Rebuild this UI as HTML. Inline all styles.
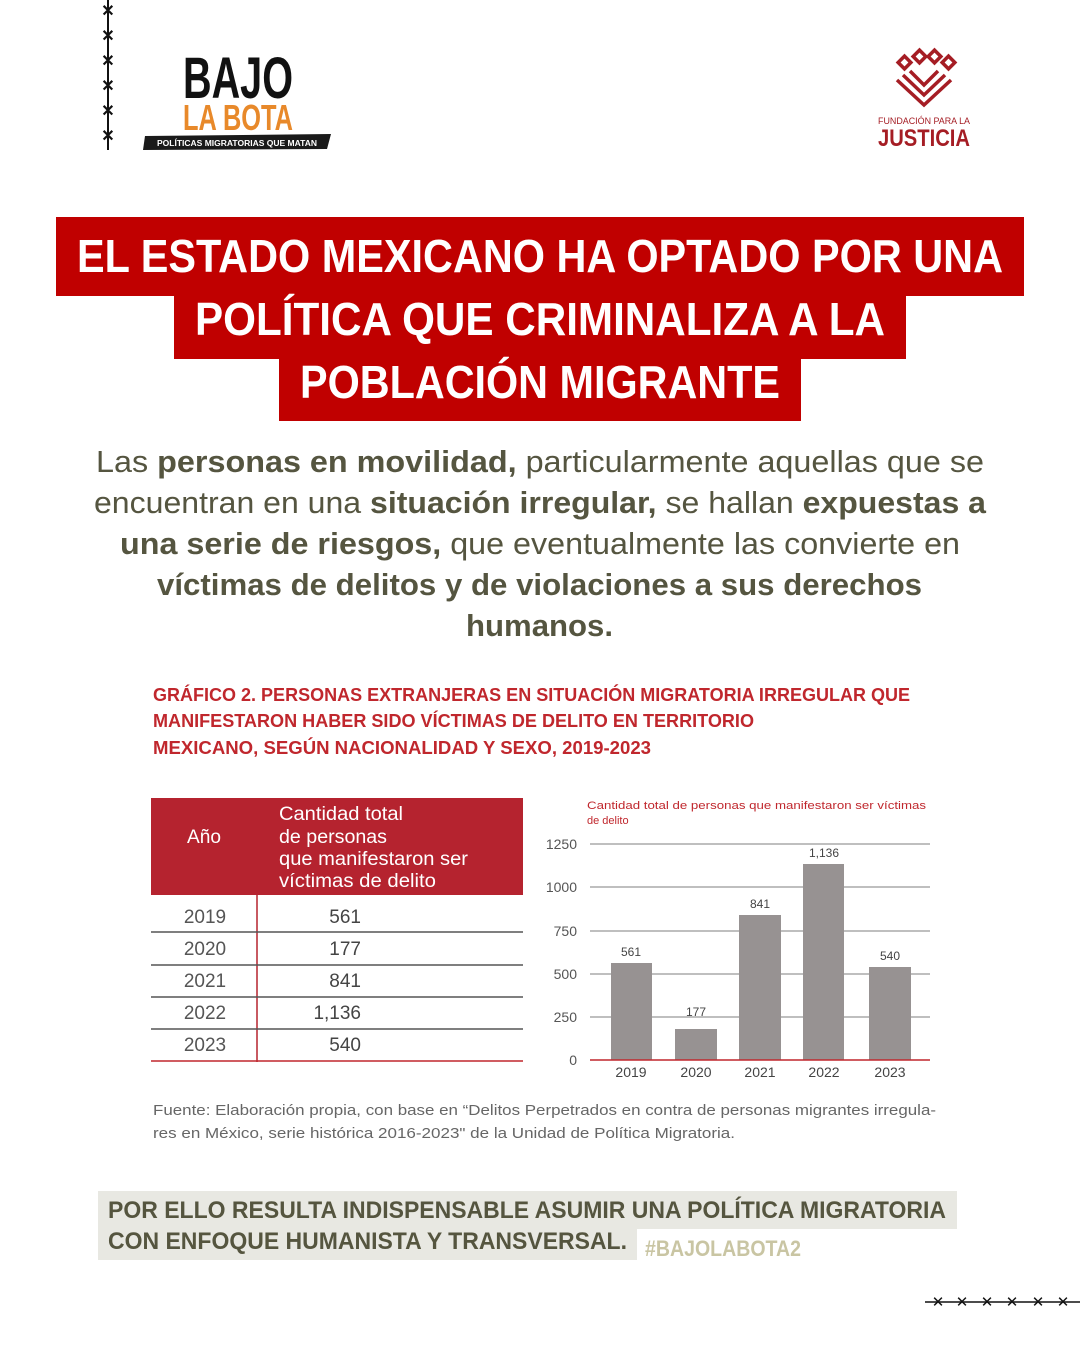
<!DOCTYPE html>
<html><head><meta charset="utf-8"><style>
html,body{margin:0;padding:0;background:#fff}
svg{display:block}
text{font-family:"Liberation Sans",sans-serif}
</style></head><body>
<svg width="1080" height="1350" viewBox="0 0 1080 1350" xmlns="http://www.w3.org/2000/svg">
<rect width="1080" height="1350" fill="#fff"/>
<!-- left stitches -->
<line x1="108" y1="0" x2="108" y2="150" stroke="#111" stroke-width="2"/>
<g font-size="16" font-weight="bold" fill="#111" text-anchor="middle">
<text x="108" y="16">✕</text><text x="108" y="41">✕</text><text x="108" y="66">✕</text><text x="108" y="91">✕</text><text x="108" y="116">✕</text><text x="108" y="141">✕</text>
</g>
<!-- BAJO LA BOTA logo -->
<text x="183" y="98" font-size="58" font-weight="bold" fill="#111" textLength="110" lengthAdjust="spacingAndGlyphs">BAJO</text>
<text x="183" y="130" font-size="36" font-weight="bold" fill="#e8892a" textLength="110" lengthAdjust="spacingAndGlyphs">LA BOTA</text>
<polygon points="145,136 331,134 327,149 143,150" fill="#1a1a1a"/>
<text x="157" y="146" font-size="8" font-weight="bold" fill="#fff" font-family="Liberation Mono" textLength="160" lengthAdjust="spacingAndGlyphs">POLÍTICAS MIGRATORIAS QUE MATAN</text>
<!-- Justicia logo -->
<g fill="none" stroke="#a51d24" stroke-width="3.5">
<rect x="900" y="58" width="9" height="9" transform="rotate(45 904.5 62.5)"/>
<rect x="915" y="52" width="9" height="9" transform="rotate(45 919.5 56.5)"/>
<rect x="930" y="52" width="9" height="9" transform="rotate(45 934.5 56.5)"/>
<rect x="944" y="58" width="9" height="9" transform="rotate(45 948.5 62.5)"/>
<polyline points="897,80 924,105 951,80"/>
<polyline points="903,75 924,95 945,75"/>
<polyline points="910,71 924,85 938,71"/>
</g>
<text x="924" y="124" font-size="9" fill="#a51d24" text-anchor="middle" textLength="92" lengthAdjust="spacingAndGlyphs">FUNDACIÓN PARA LA</text>
<text x="924" y="146" font-size="24" font-weight="bold" fill="#a51d24" text-anchor="middle" textLength="92" lengthAdjust="spacingAndGlyphs">JUSTICIA</text>
<!-- Title -->
<rect x="56" y="217" width="968" height="79" fill="#c00000"/>
<rect x="174" y="295" width="732" height="64" fill="#c00000"/>
<rect x="279" y="358" width="522" height="63" fill="#c00000"/>
<g font-size="46" font-weight="bold" fill="#fff">
<text x="77" y="272" textLength="926" lengthAdjust="spacingAndGlyphs">EL ESTADO MEXICANO HA OPTADO POR UNA</text>
<text x="195" y="335" textLength="690" lengthAdjust="spacingAndGlyphs">POLÍTICA QUE CRIMINALIZA A LA</text>
<text x="300" y="398" textLength="480" lengthAdjust="spacingAndGlyphs">POBLACIÓN MIGRANTE</text>
</g>
<!-- Paragraph -->
<g font-size="31" fill="#555540">
<text x="96" y="472" textLength="888" lengthAdjust="spacingAndGlyphs">Las <tspan font-weight="bold">personas en movilidad,</tspan> particularmente aquellas que se</text>
<text x="94" y="513" textLength="892" lengthAdjust="spacingAndGlyphs">encuentran en una <tspan font-weight="bold">situación irregular,</tspan> se hallan <tspan font-weight="bold">expuestas a</tspan></text>
<text x="120" y="554" textLength="840" lengthAdjust="spacingAndGlyphs"><tspan font-weight="bold">una serie de riesgos,</tspan> que eventualmente las convierte en</text>
<text x="157" y="595" font-weight="bold" textLength="765" lengthAdjust="spacingAndGlyphs">víctimas de delitos y de violaciones a sus derechos</text>
<text x="466" y="636" font-weight="bold" textLength="147" lengthAdjust="spacingAndGlyphs">humanos.</text>
</g>
<!-- Chart title -->
<g font-size="18" font-weight="bold" fill="#c0272d">
<text x="153" y="701" textLength="757" lengthAdjust="spacingAndGlyphs">GRÁFICO 2. PERSONAS EXTRANJERAS EN SITUACIÓN MIGRATORIA IRREGULAR QUE</text>
<text x="153" y="727" textLength="601" lengthAdjust="spacingAndGlyphs">MANIFESTARON HABER SIDO VÍCTIMAS DE DELITO EN TERRITORIO</text>
<text x="153" y="754" textLength="498" lengthAdjust="spacingAndGlyphs">MEXICANO, SEGÚN NACIONALIDAD Y SEXO, 2019-2023</text>
</g>
<!-- Table -->
<rect x="151" y="798" width="372" height="97" fill="#b5232f"/>
<g font-size="19" fill="#fff">
<text x="187" y="843" textLength="34" lengthAdjust="spacingAndGlyphs">Año</text>
<text x="279" y="820" textLength="124" lengthAdjust="spacingAndGlyphs">Cantidad total</text>
<text x="279" y="843" textLength="108" lengthAdjust="spacingAndGlyphs">de personas</text>
<text x="279" y="865" textLength="189" lengthAdjust="spacingAndGlyphs">que manifestaron ser</text>
<text x="279" y="887" textLength="157" lengthAdjust="spacingAndGlyphs">víctimas de delito</text>
</g>
<line x1="257" y1="895" x2="257" y2="1062" stroke="#b5232f" stroke-width="1.5"/>
<g stroke="#555" stroke-width="1.5">
<line x1="151" y1="932" x2="523" y2="932"/><line x1="151" y1="965" x2="523" y2="965"/>
<line x1="151" y1="997" x2="523" y2="997"/><line x1="151" y1="1029" x2="523" y2="1029"/>
</g>
<line x1="151" y1="1061" x2="523" y2="1061" stroke="#c0272d" stroke-width="1.5"/>
<g font-size="19" fill="#555" text-anchor="middle">
<text x="205" y="923">2019</text><text x="205" y="955">2020</text><text x="205" y="987">2021</text><text x="205" y="1019">2022</text><text x="205" y="1051">2023</text>
</g>
<g font-size="19" fill="#444" text-anchor="end">
<text x="361" y="923">561</text><text x="361" y="955">177</text><text x="361" y="987">841</text><text x="361" y="1019">1,136</text><text x="361" y="1051">540</text>
</g>
<!-- Bar chart -->
<g font-size="11" fill="#c0272d">
<text x="587" y="809" textLength="339" lengthAdjust="spacingAndGlyphs">Cantidad total de personas que manifestaron ser víctimas</text>
<text x="587" y="824">de delito</text>
</g>
<g stroke="#aaa" stroke-width="1.5">
<line x1="590" y1="844" x2="930" y2="844"/><line x1="590" y1="887" x2="930" y2="887"/>
<line x1="590" y1="931" x2="930" y2="931"/><line x1="590" y1="974" x2="930" y2="974"/>
<line x1="590" y1="1017" x2="930" y2="1017"/>
</g>
<g font-size="14" fill="#555" text-anchor="end">
<text x="577" y="849">1250</text><text x="577" y="892">1000</text><text x="577" y="936">750</text><text x="577" y="979">500</text><text x="577" y="1022">250</text><text x="577" y="1065">0</text>
</g>
<g fill="#979292">
<rect x="611" y="963" width="41" height="97"/>
<rect x="675" y="1029" width="42" height="31"/>
<rect x="739" y="915" width="42" height="145"/>
<rect x="803" y="864" width="41" height="196"/>
<rect x="869" y="967" width="42" height="93"/>
</g>
<line x1="590" y1="1060" x2="930" y2="1060" stroke="#c0272d" stroke-width="1.5"/>
<g font-size="12" fill="#444" text-anchor="middle">
<text x="631" y="956">561</text><text x="696" y="1016">177</text><text x="760" y="908">841</text><text x="824" y="857">1,136</text><text x="890" y="960">540</text>
</g>
<g font-size="14" fill="#444" text-anchor="middle">
<text x="631" y="1077">2019</text><text x="696" y="1077">2020</text><text x="760" y="1077">2021</text><text x="824" y="1077">2022</text><text x="890" y="1077">2023</text>
</g>
<!-- Source -->
<g font-size="14.5" fill="#666">
<text x="153" y="1115" textLength="783" lengthAdjust="spacingAndGlyphs">Fuente: Elaboración propia, con base en “Delitos Perpetrados en contra de personas migrantes irregula-</text>
<text x="153" y="1138" textLength="582" lengthAdjust="spacingAndGlyphs">res en México, serie histórica 2016-2023" de la Unidad de Política Migratoria.</text>
</g>
<!-- Bottom box -->
<rect x="98" y="1191" width="859" height="38" fill="#e8e8e2"/>
<rect x="98" y="1228" width="539" height="32" fill="#e8e8e2"/>
<g font-size="24" font-weight="bold" fill="#55553f">
<text x="108" y="1218" textLength="838" lengthAdjust="spacingAndGlyphs">POR ELLO RESULTA INDISPENSABLE ASUMIR UNA POLÍTICA MIGRATORIA</text>
<text x="108" y="1249" textLength="519" lengthAdjust="spacingAndGlyphs">CON ENFOQUE HUMANISTA Y TRANSVERSAL.</text>
</g>
<text x="645" y="1256" font-size="22" font-weight="bold" fill="#c9c5a3" textLength="156" lengthAdjust="spacingAndGlyphs">#BAJOLABOTA2</text>
<!-- bottom right stitches -->
<line x1="925" y1="1302" x2="1080" y2="1302" stroke="#111" stroke-width="1.5"/>
<g font-size="15" fill="#111" text-anchor="middle">
<text x="938" y="1307">✕</text><text x="962" y="1307">✕</text><text x="987" y="1307">✕</text><text x="1012" y="1307">✕</text><text x="1038" y="1307">✕</text><text x="1063" y="1307">✕</text>
</g>
</svg>
</body></html>
